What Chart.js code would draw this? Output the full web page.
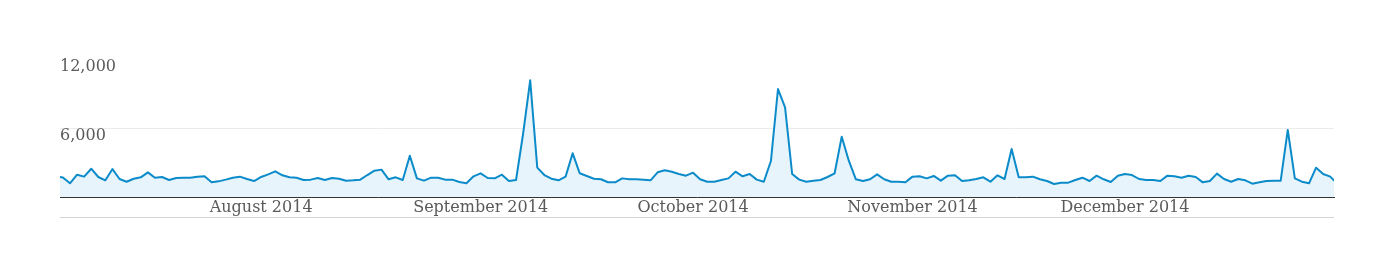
<!DOCTYPE html>
<html>
<head>
<meta charset="utf-8">
<script src="https://cdn.jsdelivr.net/npm/chart.js@4"></script>
<style>
  body { margin: 0; background: #fff; }
  #wrap { position: relative; width: 1394px; height: 279px; }
  #rule { position: absolute; left: 60px; top: 217px; width: 1274px; height: 1px; background: #d4d4d4; }
</style>
</head>
<body>
<div id="wrap">
  <canvas id="chart" width="1394" height="279"></canvas>
  <div id="rule"></div>
</div>
<script>
// daily sessions, 3 Jul 2014 – 31 Dec 2014
const START_DATE = "2014-07-03";
const july      = [1800, 1700, 1190, 1940, 1770, 2460, 1740, 1450, 2430, 1565, 1330, 1590, 1710, 2145, 1680, 1740, 1480, 1650, 1680, 1680, 1770, 1800, 1275, 1360, 1510, 1680, 1770, 1565, 1390];
const august    = [1740, 1970, 2230, 1885, 1710, 1680, 1480, 1510, 1650, 1480, 1650, 1590, 1420, 1450, 1510, 1910, 2290, 2380, 1540, 1710, 1480, 3590, 1620, 1420, 1680, 1680, 1510, 1510, 1300, 1190, 1800];
const september = [2060, 1650, 1620, 1940, 1390, 1480, 5500, 10150, 2550, 1910, 1590, 1450, 1770, 3800, 2060, 1830, 1590, 1540, 1280, 1280, 1620, 1540, 1540, 1510, 1450, 2145, 2320, 2200, 2000, 1855];
const october   = [2115, 1540, 1330, 1330, 1480, 1620, 2200, 1800, 2000, 1510, 1330, 3130, 9390, 7800, 2000, 1510, 1330, 1420, 1480, 1740, 2060, 5245, 3160, 1540, 1390, 1540, 1970, 1540, 1330, 1330, 1275];
const november  = [1770, 1800, 1620, 1830, 1420, 1855, 1885, 1390, 1450, 1565, 1710, 1330, 1885, 1565, 4170, 1710, 1710, 1770, 1540, 1390, 1130, 1245, 1245, 1480, 1680, 1390, 1855, 1540, 1300, 1855];
const december  = [2000, 1910, 1565, 1480, 1480, 1390, 1855, 1800, 1680, 1855, 1740, 1275, 1390, 2030, 1565, 1330, 1565, 1450, 1160, 1275, 1390, 1420, 1420, 5830, 1620, 1330, 1190, 2550, 2000, 1770, 1160];

const monthNames = ["January", "February", "March", "April", "May", "June", "July",
                    "August", "September", "October", "November", "December"];
const yTicks = [0, 6000, 12000];

const sessions = [].concat(july, august, september, october, november, december);

// one date per value
const dates = sessions.map((_, i) => {
  const d = new Date(START_DATE + "T00:00:00Z");
  d.setUTCDate(d.getUTCDate() + i);
  return d;
});

// month labels sit on the 1st of each month
const monthTicks = dates
  .map((d, i) => ({ i, d }))
  .filter(o => o.d.getUTCDate() === 1)
  .map(o => ({ value: o.i, label: monthNames[o.d.getUTCMonth()] + " " + o.d.getUTCFullYear() }));

const FONT = { family: "'DejaVu Serif', serif", size: 16 };

new Chart(document.getElementById("chart"), {
  type: "line",
  data: {
    datasets: [{
      data: sessions.map((v, i) => ({ x: i, y: v })),
      borderColor: "#0b8bc9",
      backgroundColor: "#e7f4fb",
      borderWidth: 2,
      borderJoinStyle: "round",
      fill: "origin",
      tension: 0,
      pointRadius: 0,
    }],
  },
  options: {
    responsive: false,
    animation: false,
    layout: { padding: { left: 60, right: 60, top: 59, bottom: 0 } },
    plugins: { legend: { display: false }, tooltip: { enabled: false } },
    scales: {
      x: {
        type: "linear",
        min: 0.59,
        max: 180.53,
        afterBuildTicks: s => { s.ticks = monthTicks.map(t => ({ value: t.value })); },
        afterFit: s => { s.height = 82; },
        ticks: {
          autoSkip: false,
          maxRotation: 0,
          padding: 1,
          color: "#5a5a5a",
          font: FONT,
          callback: v => (monthTicks.find(t => t.value === v) || {}).label || "",
        },
        grid: { display: false, drawTicks: false },
        border: { display: true, color: "#333", width: 1 },
      },
      y: {
        min: yTicks[0],
        max: yTicks[yTicks.length - 1],
        afterBuildTicks: s => { s.ticks = yTicks.map(v => ({ value: v })); },
        afterFit: s => { s.width = 0; },
        ticks: {
          mirror: true,
          align: "start",
          padding: 0,
          color: "#5a5a5a",
          font: FONT,
          callback: v => (v === 0 ? "" : v.toLocaleString("en-US")),
        },
        grid: {
          drawTicks: false,
          color: c => (c.tick && c.tick.value === 6000 ? "#ebebeb" : "rgba(0,0,0,0)"),
        },
        border: { display: false },
      },
    },
  },
});
</script>
</body>
</html>
